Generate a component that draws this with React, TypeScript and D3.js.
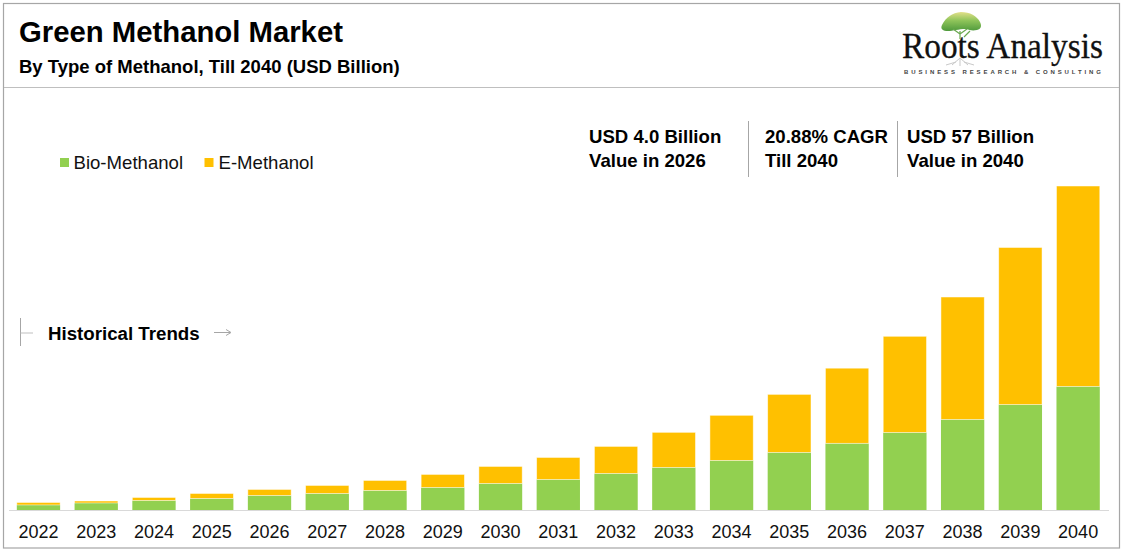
import React from "react";
import * as d3 from "d3";

const years = ["2022","2023","2024","2025","2026","2027","2028","2029","2030","2031","2032","2033","2034","2035","2036","2037","2038","2039","2040"];
const bioMethanol = [0.97,1.32,1.76,2.11,2.64,2.99,3.52,4.05,4.75,5.45,6.51,7.57,8.8,10.2,11.8,13.7,16.0,18.6,21.8];
const eMethanol = [0.44,0.35,0.53,0.88,1.06,1.41,1.76,2.29,2.99,3.87,4.75,6.16,7.92,10.2,13.2,16.9,21.5,27.6,35.2];

const seriesNames = ["Bio-Methanol", "E-Methanol"];
const seriesColors = ["#92d050", "#ffc000"];

const W = 1123;
const H = 553;
const FONT = "'Liberation Sans', Arial, sans-serif";

const x = d3.scaleBand<string>().domain(years).range([9.3, 1107.3]).paddingInner(0.25).paddingOuter(0.13);
const y = d3.scaleLinear().domain([0, 57]).range([510.5, 186]);

const rows = years.map((year, i) => ({ year, bio: bioMethanol[i], e: eMethanol[i] }));
const stacked = d3.stack<{ year: string; bio: number; e: number }>().keys(["bio", "e"])(rows as any);

const callouts = [
  { x: 589, lines: ["USD 4.0 Billion", "Value in 2026"] },
  { x: 765, lines: ["20.88% CAGR", "Till 2040"] },
  { x: 907, lines: ["USD 57 Billion", "Value in 2040"] },
];
const dividers = [748.5, 897.5];

function Logo() {
  return (
    <g>
      <defs>
        <linearGradient id="crown" x1="0" y1="0" x2="0" y2="1">
          <stop offset="0" stopColor="#e3e08a" />
          <stop offset="0.45" stopColor="#8fc45a" />
          <stop offset="1" stopColor="#4f9a3c" />
        </linearGradient>
      </defs>
      <path
        d="M942 25 C946 17 952 13 961 12 C970 12 977 16 980 22 C982 26 981 29 977 30 C972 31 970 30 966 29 C958 29 953 31 948 31 C943 31 940 29 942 25 Z"
        fill="url(#crown)"
      />
      <path
        d="M960 39 L960 31 M960 34 L953 29 M960 34 L967 29 M964 37 L970 31"
        stroke="#6aa84f"
        strokeWidth={1.2}
        fill="none"
      />
      <path
        d="M952 65 L960 58 L968 65 M960 58 L960 66 M956 62 L946 65 M964 62 L974 65"
        stroke="#c9c9c9"
        strokeWidth={1}
        fill="none"
      />
      <text x={902} y={58} fontFamily="'Liberation Serif', serif" fontSize={35.5} fill="#111" stroke="#111" strokeWidth={0.3} textLength={201} lengthAdjust="spacingAndGlyphs">
        Roots Analysis
      </text>
      <text x={904} y={74} fontFamily={FONT} fontSize={6} fontWeight={700} fill="#444" textLength={197}>
        BUSINESS RESEARCH &amp; CONSULTING
      </text>
    </g>
  );
}

export default function App() {
  return (
    <svg width={W} height={H} viewBox={`0 0 ${W} ${H}`} style={{ position: "absolute", left: 0, top: 0, background: "#fff" }} fontFamily={FONT}>
      <rect x={3.5} y={3.5} width={1116} height={544.5} fill="#fff" stroke="#a6a6a6" strokeWidth={1.2} />
      <line x1={4} x2={1119} y1={87.5} y2={87.5} stroke="#bfbfbf" strokeWidth={1.2} />

      <text x={19} y={42} fontSize={29.3} fontWeight={700} fill="#000">Green Methanol Market</text>
      <text x={19} y={73} fontSize={18.5} fontWeight={700} fill="#000">By Type of Methanol, Till 2040 (USD Billion)</text>
      <Logo />

      {seriesNames.map((name, i) => (
        <g key={name}>
          <rect x={i === 0 ? 60 : 204.5} y={158} width={9} height={9} fill={seriesColors[i]} />
          <text x={i === 0 ? 73.5 : 218.5} y={168.5} fontSize={18.6} fill="#111">{name}</text>
        </g>
      ))}

      {callouts.map((c) => (
        <g key={c.x}>
          {c.lines.map((line, i) => (
            <text key={line} x={c.x} y={143 + i * 23.5} fontSize={18.6} fontWeight={700} fill="#000">{line}</text>
          ))}
        </g>
      ))}
      {dividers.map((d) => (
        <line key={d} x1={d} x2={d} y1={121} y2={177} stroke="#a6a6a6" strokeWidth={1} />
      ))}

      <line x1={20.5} x2={20.5} y1={318} y2={346} stroke="#a6a6a6" strokeWidth={1} />
      <line x1={20.5} x2={33} y1={333} y2={333} stroke="#bfbfbf" strokeWidth={1} />
      <text x={48} y={339.5} fontSize={18.7} fontWeight={700} fill="#000">Historical Trends</text>
      <line x1={214} x2={230} y1={332.5} y2={332.5} stroke="#a6a6a6" strokeWidth={1} />
      <path d="M226 329.5 L231 332.5 L226 335.5" stroke="#a6a6a6" strokeWidth={1} fill="none" />

      {stacked.map((layer, si) => (
        <g key={layer.key}>
          {layer.map((d, i) => (
            <rect
              key={years[i]}
              x={x(years[i])}
              width={x.bandwidth()}
              y={y(d[1])}
              height={y(d[0]) - y(d[1])}
              fill={seriesColors[si]}
              stroke="#fff"
              strokeOpacity={si === 1 ? 0.6 : 0}
              strokeWidth={0.8}
            />
          ))}
        </g>
      ))}

      <line x1={9} x2={1109} y1={510.5} y2={510.5} stroke="#d9d9d9" strokeWidth={1} />
      {years.map((year) => (
        <text key={year} x={(x(year) as number) + x.bandwidth() / 2} y={538} fontSize={18} textAnchor="middle" fill="#111">{year}</text>
      ))}
    </svg>
  );
}
